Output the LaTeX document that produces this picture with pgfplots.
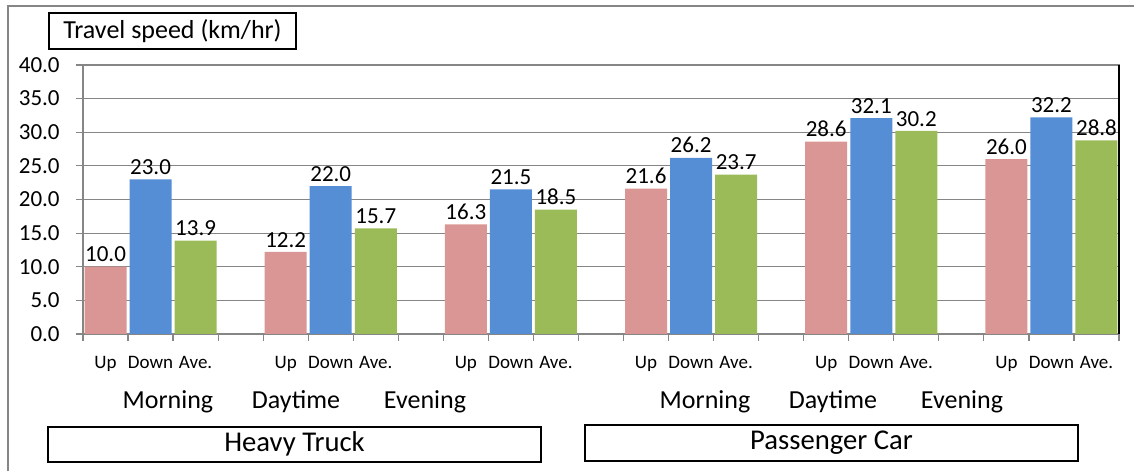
\documentclass[border=0pt]{standalone}
\usepackage{pgfplots}
\pgfplotsset{compat=1.18}
\usepackage{fontspec}
\setmainfont{Carlito}
\definecolor{cup}{HTML}{D99694}
\definecolor{cdown}{HTML}{558ED5}
\definecolor{cave}{HTML}{9BBB59}
\definecolor{gridc}{HTML}{868686}
\begin{document}
\begin{tikzpicture}[x=0.75pt,y=0.75pt]
% outer frame (top and left only)
\draw[gridc,line width=1.5] (7.5,0) -- (7.5,465) -- (1134,465);
\begin{axis}[
  at={(62.25pt,102.75pt)}, anchor=south west,
  scale only axis, width=777pt, height=201.75pt,
  xmin=0, xmax=23, ymin=0, ymax=40,
  ytick={0,5,...,40},
  ymajorgrids, grid style={gridc, line width=0.9pt},
  axis line style={gridc, line width=0.9pt},
  /pgf/number format/fixed,
  /pgf/number format/fixed zerofill,
  /pgf/number format/precision=1,
  /pgf/number format/assume math mode=true,
  yticklabel style={font=\fontsize{17.25}{17.25}\selectfont, xshift=-9pt},
  xtick={0.5,1.5,...,22.5},
  xticklabels={Up,Down,Ave.,,Up,Down,Ave.,,Up,Down,Ave.,,Up,Down,Ave.,,Up,Down,Ave.,,Up,Down,Ave.},
  xticklabel style={font=\fontsize{14.25}{14.25}\selectfont, yshift=-8pt},
  major x tick style={draw=none},
  minor xtick={0,1,...,23},
  minor tick length=5pt,
  major tick length=5pt,
  tick style={gridc, line width=0.9pt},
  tick align=outside, tick pos=left,
  ybar, bar width=31.5pt, bar shift=0pt,
  clip=false,
  nodes near coords,
  nodes near coords style={font=\fontsize{17.25}{17.25}\selectfont},
]
\addplot[fill=cup, draw=none] coordinates {(0.5,10.0) (4.5,12.2) (8.5,16.3) (12.5,21.6) (16.5,28.6) (20.5,26.0)};
\addplot[fill=cdown, draw=none] coordinates {(1.5,23.0) (5.5,22.0) (9.5,21.5) (13.5,26.2) (17.5,32.1) (21.5,32.2)};
\addplot[fill=cave, draw=none] coordinates {(2.5,13.9) (6.5,15.7) (10.5,18.5) (14.5,23.7) (18.5,30.2) (22.5,28.8)};
\draw[black, line width=0.9pt] (rel axis cs:1,0) -- (rel axis cs:1,1);
\end{axis}
% title box
\draw[black, line width=1pt, fill=white] (49,422) rectangle (296,458);
\node[font=\fontsize{19.5}{19.5}\selectfont] at (172.5,440) {Travel speed (km/hr)};
% time of day labels
\foreach \x/\t in {168/Morning,296/Daytime,425/Evening,705/Morning,833/Daytime,962/Evening}
  \node[font=\fontsize{19.5}{19.5}\selectfont] at (\x,69) {\t};
% vehicle boxes
\draw[black, line width=1pt] (48,9) rectangle (541,44);
\node[font=\fontsize{21.5}{21.5}\selectfont] at (294.5,27) {Heavy Truck};
\draw[black, line width=1pt] (585,10) rectangle (1078,46);
\node[font=\fontsize{21.5}{21.5}\selectfont] at (831.5,28) {Passenger Car};
\pgfresetboundingbox
\path[use as bounding box] (0,0) rectangle (1134,471);
\end{tikzpicture}
\end{document}
